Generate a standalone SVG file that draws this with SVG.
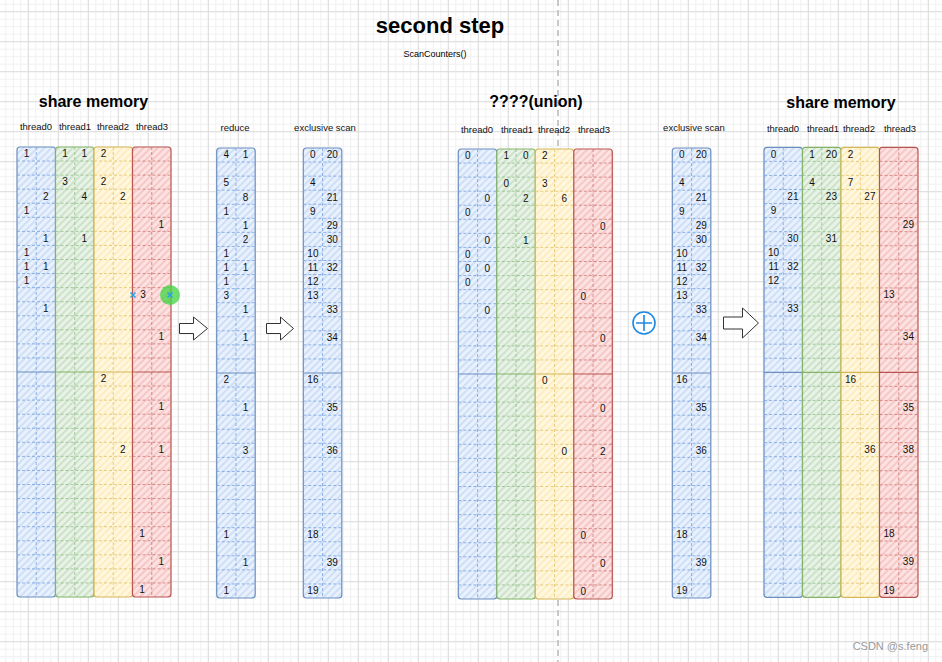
<svg xmlns="http://www.w3.org/2000/svg" xmlns:xlink="http://www.w3.org/1999/xlink" width="942" height="662" viewBox="0 0 942 662">
<style>
.n{font-family:"Liberation Sans",Arial,sans-serif;font-size:10px;text-anchor:middle;fill:#111}
.lb{font-family:"Liberation Sans",Arial,sans-serif;font-size:9.5px;text-anchor:middle;fill:#111}
.h{font-family:"Liberation Sans",Arial,sans-serif;font-size:16px;font-weight:bold;text-anchor:middle;fill:#000}
.col rect{stroke-width:1.2}
.d{fill:none;stroke-width:1;stroke-dasharray:3 2;opacity:.85}
.m{fill:none;stroke-width:1.2}
.b rect{fill:url(#hb);stroke:#6c8ebf}.b .d{stroke:#7ea6e0}.b .m{stroke:#6c8ebf}
.g rect{fill:url(#hg);stroke:#82b366}.g .d{stroke:#97c28d}.g .m{stroke:#82b366}
.y rect{fill:url(#hy);stroke:#d6b656}.y .d{stroke:#e3c66e}.y .m{stroke:#d6b656}
.r rect{fill:url(#hr);stroke:#b85450}.r .d{stroke:#d17d7b}.r .m{stroke:#b85450}
.arr{fill:#fff;stroke:#333;stroke-width:1}
</style>
<defs>
<pattern id="gmin" width="7.5" height="7.5" patternUnits="userSpaceOnUse" x="5.3" y="3.7"><path d="M0.5 0V7.5M0 0.5H7.5" stroke="#f0f0f0" stroke-width="1" fill="none"/></pattern>
<pattern id="gmaj" width="30" height="30" patternUnits="userSpaceOnUse" x="27.8" y="11.2"><path d="M0.5 0V30M0 0.5H30" stroke="#dcdcdc" stroke-width="1" fill="none"/></pattern>
<pattern id="hb" width="5" height="5" patternUnits="userSpaceOnUse" patternTransform="rotate(45)"><rect width="5" height="5" fill="#e9f1fd" stroke="none"/><line x1="1" y1="0" x2="1" y2="5" stroke="#c8dbf6" stroke-width="1.6"/></pattern>
<pattern id="hg" width="5" height="5" patternUnits="userSpaceOnUse" patternTransform="rotate(45)"><rect width="5" height="5" fill="#e8f2e7" stroke="none"/><line x1="1" y1="0" x2="1" y2="5" stroke="#c6e0c2" stroke-width="1.6"/></pattern>
<pattern id="hy" width="5" height="5" patternUnits="userSpaceOnUse" patternTransform="rotate(45)"><rect width="5" height="5" fill="#fff7e0" stroke="none"/><line x1="1" y1="0" x2="1" y2="5" stroke="#fdebb8" stroke-width="1.6"/></pattern>
<pattern id="hr" width="5" height="5" patternUnits="userSpaceOnUse" patternTransform="rotate(45)"><rect width="5" height="5" fill="#fce3e2" stroke="none"/><line x1="1" y1="0" x2="1" y2="5" stroke="#f4c1c0" stroke-width="1.6"/></pattern>
<path id="rows" d="M0 14.06H38.5M0 28.13H38.5M0 42.19H38.5M0 56.25H38.5M0 70.31H38.5M0 84.38H38.5M0 98.44H38.5M0 112.5H38.5M0 126.56H38.5M0 140.63H38.5M0 154.69H38.5M0 168.75H38.5M0 182.81H38.5M0 196.88H38.5M0 210.94H38.5M0 239.06H38.5M0 253.13H38.5M0 267.19H38.5M0 281.25H38.5M0 295.31H38.5M0 309.38H38.5M0 323.44H38.5M0 337.5H38.5M0 351.56H38.5M0 365.63H38.5M0 379.69H38.5M0 393.75H38.5M0 407.81H38.5M0 421.88H38.5M0 435.94H38.5M19.25 0V450"/>
<path id="mid" d="M0 225H38.5"/>
</defs>
<rect width="942" height="662" fill="#fff"/>
<rect width="942" height="662" fill="url(#gmin)"/>
<rect width="942" height="662" fill="url(#gmaj)"/>
<line x1="558" y1="0" x2="558" y2="662" stroke="#c8c8c8" stroke-width="2" stroke-dasharray="6 4"/>

<g id="title">
<text x="440" y="33.3" font-family="Liberation Sans,Arial,sans-serif" font-size="22" font-weight="bold" text-anchor="middle">second step</text>
<text x="435" y="57.3" font-family="Liberation Sans,Arial,sans-serif" font-size="9" text-anchor="middle">ScanCounters()</text>
</g>

<g id="labels">
<text class="h" x="93.5" y="106.7">share memory</text>
<text class="h" x="536" y="107.3">????(union)</text>
<text class="h" x="841" y="108.3">share memory</text>
<text class="lb" x="36" y="130">thread0</text><text class="lb" x="75" y="130">thread1</text><text class="lb" x="113" y="130">thread2</text><text class="lb" x="152" y="130">thread3</text>
<text class="lb" x="235" y="131">reduce</text><text class="lb" x="325" y="131">exclusive scan</text>
<text class="lb" x="477" y="133">thread0</text><text class="lb" x="517" y="133">thread1</text><text class="lb" x="554" y="133">thread2</text><text class="lb" x="594" y="133">thread3</text>
<text class="lb" x="694" y="131">exclusive scan</text>
<text class="lb" x="783" y="132">thread0</text><text class="lb" x="823" y="132">thread1</text><text class="lb" x="859" y="132">thread2</text><text class="lb" x="900" y="132">thread3</text>
</g>

<!-- left share memory -->
<g id="L-t0" class="col b"><rect x="17" y="147" width="38.5" height="450" rx="3"/><use href="#rows" x="17" y="147" class="d"/><use href="#mid" x="17" y="147" class="m"/>
<text class="n" x="26.6" y="157.3">1</text><text class="n" x="45.9" y="199.5">2</text><text class="n" x="26.6" y="213.5">1</text><text class="n" x="45.9" y="241.7">1</text><text class="n" x="26.6" y="255.7">1</text><text class="n" x="26.6" y="269.8">1</text><text class="n" x="45.9" y="269.8">1</text><text class="n" x="26.6" y="283.9">1</text><text class="n" x="45.9" y="312">1</text></g>
<g id="L-t1" class="col g"><rect x="55.5" y="147" width="38.5" height="450" rx="3"/><use href="#rows" x="55.5" y="147" class="d"/><use href="#mid" x="55.5" y="147" class="m"/>
<text class="n" x="65.1" y="157.3">1</text><text class="n" x="84.4" y="157.3">1</text><text class="n" x="65.1" y="185.4">3</text><text class="n" x="84.4" y="199.5">4</text><text class="n" x="84.4" y="241.7">1</text></g>
<g id="L-t2" class="col y"><rect x="94" y="147" width="38.5" height="450" rx="3"/><use href="#rows" x="94" y="147" class="d"/><use href="#mid" x="94" y="147" class="m"/>
<text class="n" x="103.6" y="157.3">2</text><text class="n" x="103.6" y="185.4">2</text><text class="n" x="122.9" y="199.5">2</text><text class="n" x="103.6" y="382.3">2</text><text class="n" x="122.9" y="452.6">2</text></g>
<g id="L-t3" class="col r"><rect x="132.5" y="147" width="38.5" height="450" rx="3"/><use href="#rows" x="132.5" y="147" class="d"/><use href="#mid" x="132.5" y="147" class="m"/>
<text class="n" x="161.4" y="227.6">1</text><text class="n" x="143" y="297.9">3</text><text class="n" x="161.4" y="340.1">1</text><text class="n" x="161.4" y="410.4">1</text><text class="n" x="161.4" y="452.6">1</text><text class="n" x="142.1" y="537">1</text><text class="n" x="161.4" y="565.1">1</text><text class="n" x="142.1" y="593.2">1</text></g>
<g id="marks">
<path d="M130.5 292.5l5 5M135.5 292.5l-5 5" stroke="#2aa0e8" stroke-width="1.5"/>
<circle cx="170" cy="295" r="10" fill="#3fd63f" fill-opacity="0.75"/>
<path d="M167.5 292.5l5 5M172.5 292.5l-5 5" stroke="#2aa0e8" stroke-width="1.5"/>
</g>

<!-- reduce -->
<g id="reduce" class="col b"><rect x="216.7" y="148" width="38.5" height="450" rx="3"/><use href="#rows" x="216.7" y="148" class="d"/><use href="#mid" x="216.7" y="148" class="m"/>
<text class="n" x="226.3" y="158.3">4</text><text class="n" x="245.6" y="158.3">1</text><text class="n" x="226.3" y="186.4">5</text><text class="n" x="245.6" y="200.5">8</text><text class="n" x="226.3" y="214.5">1</text><text class="n" x="245.6" y="228.6">1</text><text class="n" x="245.6" y="242.7">2</text><text class="n" x="226.3" y="256.7">1</text><text class="n" x="226.3" y="270.8">1</text><text class="n" x="245.6" y="270.8">1</text><text class="n" x="226.3" y="284.9">1</text><text class="n" x="226.3" y="298.9">3</text><text class="n" x="245.6" y="313">1</text><text class="n" x="245.6" y="341.1">1</text><text class="n" x="226.3" y="383.3">2</text><text class="n" x="245.6" y="411.4">1</text><text class="n" x="245.6" y="453.6">3</text><text class="n" x="226.3" y="538">1</text><text class="n" x="245.6" y="566.1">1</text><text class="n" x="226.3" y="594.2">1</text></g>

<!-- exclusive scan 1 -->
<g id="scan1" class="col b"><rect x="303.3" y="148" width="38.5" height="450" rx="3"/><use href="#rows" x="303.3" y="148" class="d"/><use href="#mid" x="303.3" y="148" class="m"/>
<text class="n" x="312.9" y="158.3">0</text><text class="n" x="332.2" y="158.3">20</text><text class="n" x="312.9" y="186.4">4</text><text class="n" x="332.2" y="200.5">21</text><text class="n" x="312.9" y="214.5">9</text><text class="n" x="332.2" y="228.6">29</text><text class="n" x="332.2" y="242.7">30</text><text class="n" x="312.9" y="256.7">10</text><text class="n" x="312.9" y="270.8">11</text><text class="n" x="332.2" y="270.8">32</text><text class="n" x="312.9" y="284.9">12</text><text class="n" x="312.9" y="298.9">13</text><text class="n" x="332.2" y="313">33</text><text class="n" x="332.2" y="341.1">34</text><text class="n" x="312.9" y="383.3">16</text><text class="n" x="332.2" y="411.4">35</text><text class="n" x="332.2" y="453.6">36</text><text class="n" x="312.9" y="538">18</text><text class="n" x="332.2" y="566.1">39</text><text class="n" x="312.9" y="594.2">19</text></g>

<!-- union -->
<g id="M-t0" class="col b"><rect x="458.3" y="149" width="38.5" height="450" rx="3"/><use href="#rows" x="458.3" y="149" class="d"/><use href="#mid" x="458.3" y="149" class="m"/>
<text class="n" x="467.9" y="159.3">0</text><text class="n" x="487.2" y="201.5">0</text><text class="n" x="467.9" y="215.5">0</text><text class="n" x="487.2" y="243.7">0</text><text class="n" x="467.9" y="257.7">0</text><text class="n" x="467.9" y="271.8">0</text><text class="n" x="487.2" y="271.8">0</text><text class="n" x="467.9" y="285.9">0</text><text class="n" x="487.2" y="314">0</text></g>
<g id="M-t1" class="col g"><rect x="496.8" y="149" width="38.5" height="450" rx="3"/><use href="#rows" x="496.8" y="149" class="d"/><use href="#mid" x="496.8" y="149" class="m"/>
<text class="n" x="506.4" y="159.3">1</text><text class="n" x="525.7" y="159.3">0</text><text class="n" x="506.4" y="187.4">0</text><text class="n" x="525.7" y="201.5">2</text><text class="n" x="525.7" y="243.7">1</text></g>
<g id="M-t2" class="col y"><rect x="535.3" y="149" width="38.5" height="450" rx="3"/><use href="#rows" x="535.3" y="149" class="d"/><use href="#mid" x="535.3" y="149" class="m"/>
<text class="n" x="544.9" y="159.3">2</text><text class="n" x="544.9" y="187.4">3</text><text class="n" x="564.2" y="201.5">6</text><text class="n" x="544.9" y="384.3">0</text><text class="n" x="564.2" y="454.6">0</text></g>
<g id="M-t3" class="col r"><rect x="573.8" y="149" width="38.5" height="450" rx="3"/><use href="#rows" x="573.8" y="149" class="d"/><use href="#mid" x="573.8" y="149" class="m"/>
<text class="n" x="602.7" y="229.6">0</text><text class="n" x="583.4" y="299.9">0</text><text class="n" x="602.7" y="342.1">0</text><text class="n" x="602.7" y="412.4">0</text><text class="n" x="602.7" y="454.6">2</text><text class="n" x="583.4" y="539">0</text><text class="n" x="602.7" y="567.1">0</text><text class="n" x="583.4" y="595.2">0</text></g>

<g id="plus"><circle cx="644" cy="323" r="11" fill="#fff" stroke="#1e88e5" stroke-width="1.6"/><path d="M636 323H652M644 315V331" stroke="#1e88e5" stroke-width="1.6"/></g>

<!-- exclusive scan 2 -->
<g id="scan2" class="col b"><rect x="672.3" y="148" width="38.5" height="450" rx="3"/><use href="#rows" x="672.3" y="148" class="d"/><use href="#mid" x="672.3" y="148" class="m"/>
<text class="n" x="681.9" y="158.3">0</text><text class="n" x="701.2" y="158.3">20</text><text class="n" x="681.9" y="186.4">4</text><text class="n" x="701.2" y="200.5">21</text><text class="n" x="681.9" y="214.5">9</text><text class="n" x="701.2" y="228.6">29</text><text class="n" x="701.2" y="242.7">30</text><text class="n" x="681.9" y="256.7">10</text><text class="n" x="681.9" y="270.8">11</text><text class="n" x="701.2" y="270.8">32</text><text class="n" x="681.9" y="284.9">12</text><text class="n" x="681.9" y="298.9">13</text><text class="n" x="701.2" y="313">33</text><text class="n" x="701.2" y="341.1">34</text><text class="n" x="681.9" y="383.3">16</text><text class="n" x="701.2" y="411.4">35</text><text class="n" x="701.2" y="453.6">36</text><text class="n" x="681.9" y="538">18</text><text class="n" x="701.2" y="566.1">39</text><text class="n" x="681.9" y="594.2">19</text></g>

<!-- right share memory -->
<g id="R-t0" class="col b"><rect x="764" y="147.3" width="38.5" height="450" rx="3"/><use href="#rows" x="764" y="147.3" class="d"/><use href="#mid" x="764" y="147.3" class="m"/>
<text class="n" x="773.6" y="157.6">0</text><text class="n" x="792.9" y="199.8">21</text><text class="n" x="773.6" y="213.8">9</text><text class="n" x="792.9" y="242">30</text><text class="n" x="773.6" y="256">10</text><text class="n" x="773.6" y="270.1">11</text><text class="n" x="792.9" y="270.1">32</text><text class="n" x="773.6" y="284.2">12</text><text class="n" x="792.9" y="312.3">33</text></g>
<g id="R-t1" class="col g"><rect x="802.5" y="147.3" width="38.5" height="450" rx="3"/><use href="#rows" x="802.5" y="147.3" class="d"/><use href="#mid" x="802.5" y="147.3" class="m"/>
<text class="n" x="812.1" y="157.6">1</text><text class="n" x="831.4" y="157.6">20</text><text class="n" x="812.1" y="185.7">4</text><text class="n" x="831.4" y="199.8">23</text><text class="n" x="831.4" y="242">31</text></g>
<g id="R-t2" class="col y"><rect x="841" y="147.3" width="38.5" height="450" rx="3"/><use href="#rows" x="841" y="147.3" class="d"/><use href="#mid" x="841" y="147.3" class="m"/>
<text class="n" x="850.6" y="157.6">2</text><text class="n" x="850.6" y="185.7">7</text><text class="n" x="869.9" y="199.8">27</text><text class="n" x="850.6" y="382.6">16</text><text class="n" x="869.9" y="452.9">36</text></g>
<g id="R-t3" class="col r"><rect x="879.5" y="147.3" width="38.5" height="450" rx="3"/><use href="#rows" x="879.5" y="147.3" class="d"/><use href="#mid" x="879.5" y="147.3" class="m"/>
<text class="n" x="908.4" y="227.9">29</text><text class="n" x="889.1" y="298.2">13</text><text class="n" x="908.4" y="340.4">34</text><text class="n" x="908.4" y="410.7">35</text><text class="n" x="908.4" y="452.9">38</text><text class="n" x="889.1" y="537.3">18</text><text class="n" x="908.4" y="565.4">39</text><text class="n" x="889.1" y="593.5">19</text></g>

<g id="connectors">
<path class="arr" transform="translate(179.5 328.5)" d="M0 -5H14V-11.5L28 0L14 11.5V5H0Z"/>
<path class="arr" transform="translate(266.5 328.5)" d="M0 -5H14V-11.5L27 0L14 11.5V5H0Z"/>
<path class="arr" transform="translate(723.5 323)" d="M0 -6H19V-15L35 0L19 15V6H0Z"/>
</g>

<text x="928" y="650" font-family="Liberation Sans,Arial,sans-serif" font-size="11" text-anchor="end" fill="#999">CSDN @s.feng</text>
</svg>
